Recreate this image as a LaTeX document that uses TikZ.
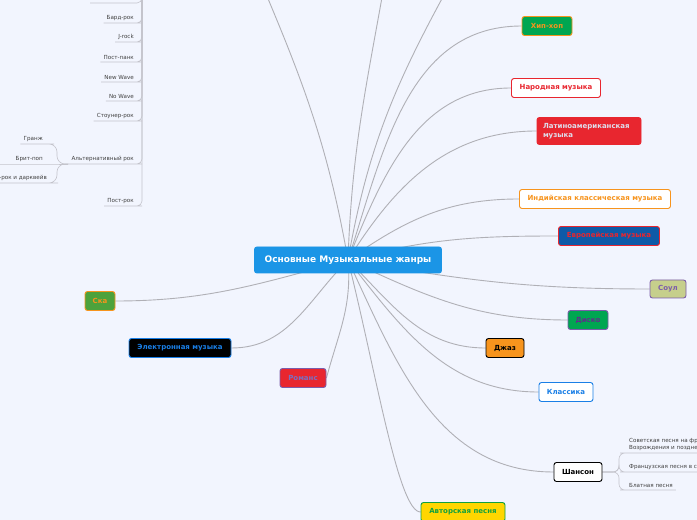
\documentclass[tikz,border=0pt]{standalone}
\usepackage{fontspec}
\setmainfont{DejaVu Sans}

\definecolor{fond}{RGB}{242,245,254}
\definecolor{gristrait}{RGB}{176,176,182}
\definecolor{grisfin}{RGB}{196,196,204}
\definecolor{bleuc}{RGB}{27,149,230}
\definecolor{bleum}{RGB}{26,127,230}
\definecolor{bleuf}{RGB}{14,90,167}
\definecolor{vertx}{RGB}{0,166,81}
\definecolor{vertska}{RGB}{77,162,60}
\definecolor{orangex}{RGB}{247,148,29}
\definecolor{rougex}{RGB}{232,38,47}
\definecolor{violetx}{RGB}{124,92,170}
\definecolor{violetf}{RGB}{96,44,140}
\definecolor{lavande}{RGB}{123,111,192}
\definecolor{olive}{RGB}{198,207,140}
\definecolor{jaunex}{RGB}{255,214,0}
\definecolor{vertb}{RGB}{16,160,64}
\definecolor{clair}{RGB}{222,222,236}

\pgfdeclarelayer{fondlayer}
\pgfdeclarelayer{liens}
\pgfsetlayers{fondlayer,liens,main}

\tikzset{
  genre/.style={draw, rounded corners=2.5pt, line width=0.9pt,
    font=\fontsize{7}{8.5}\selectfont\bfseries, minimum height=19pt, inner xsep=6pt},
  lien/.style={draw=gristrait, line width=0.9pt},
  sousgenre/.style={font=\fontsize{5.6}{7}\selectfont, text=black!75,
    inner xsep=3pt, inner ysep=2.5pt},
  souslien/.style={draw=grisfin, line width=0.6pt, rounded corners=5pt},
}

\begin{document}
\begin{tikzpicture}[x=1pt,y=1pt]
    \useasboundingbox (0,0) rectangle (697,520);
    \begin{pgfonlayer}{fondlayer}
      \fill[fond] (0,0) rectangle (697,520);
    \end{pgfonlayer}

    % Noeud central
    \node[genre, fill=bleuc, draw=bleuc, text=white, minimum height=26pt, minimum width=187pt,
      inner xsep=9pt, font=\fontsize{9}{11}\selectfont\bfseries] (racine) at (348,260) {Основные Музыкальные жанры};

    % Genres a droite
    \node[genre, fill=vertx, draw=orangex, text=orangex, minimum width=50pt] (hiphop) at (547,494) {Хип-хоп};
    \node[genre, fill=white, draw=rougex, text=rougex, minimum width=89pt] (folk) at (556,432) {Народная музыка};
    \node[genre, fill=rougex, draw=rougex, text=clair, align=left, minimum height=27pt,
      text width=92pt] (latino) at (589,389) {Латиноамериканская\\музыка};
    \node[genre, fill=white, draw=orangex, text=orangex, minimum width=151pt] (inde) at (595,321) {Индийская классическая музыка};
    \node[genre, fill=bleuf, draw=rougex, text=rougex, minimum width=101pt] (europe) at (609,284) {Европейская музыка};
    \node[genre, fill=olive, draw=violetx, text=violetx, minimum height=18pt, minimum width=36pt] (soul) at (668,231) {Соул};
    \node[genre, fill=vertx, draw=violetx, text=violetf, minimum width=40pt] (disco) at (588,200) {Диско};
    \node[genre, fill=orangex, draw=black, text=black, minimum width=38pt] (jazz) at (505,172) {Джаз};
    \node[genre, fill=white, draw=bleum, text=bleum, minimum width=54pt] (classique) at (566,128) {Классика};
    \node[genre, fill=white, draw=black, text=black, minimum width=48pt] (chanson) at (578,48) {Шансон};
    \node[genre, fill=jaunex, draw=vertb, text=vertb, minimum width=84pt] (barde) at (463,8) {Авторская песня};

    % Genres a gauche
    \node[genre, fill=rougex, draw=violetx, text=lavande, minimum width=46pt] (romance) at (303,142) {Романс};
    \node[genre, fill=black, draw=bleum, text=bleum, minimum width=102pt] (electro) at (180,172) {Электронная музыка};
    \node[genre, fill=vertska, draw=orangex, text=orangex, minimum width=30pt] (ska) at (100,219) {Ска};

    % Branches hors cadre
    \coordinate (rock) at (258,545);
    \coordinate (hautA) at (386,545);
    \coordinate (hautB) at (455,545);
    \coordinate (rockaxe) at (142,545);

    % Sous-genres du rock
    \coordinate (cache) at (100,517);
    \node[sousgenre, anchor=south east] (bardrock) at (137,497) {Бард-рок};
    \node[sousgenre, anchor=south east] (jrock) at (137,478) {J-rock};
    \node[sousgenre, anchor=south east] (postpunk) at (137,458) {Пост-панк};
    \node[sousgenre, anchor=south east] (newwave) at (137,438) {New Wave};
    \node[sousgenre, anchor=south east] (nowave) at (137,419) {No Wave};
    \node[sousgenre, anchor=south east] (stoner) at (137,399) {Стоунер-рок};
    \node[sousgenre, anchor=south east] (altrock) at (137,356) {Альтернативный рок};
    \node[sousgenre, anchor=south east] (postrock) at (137,314) {Пост-рок};

    % Sous-genres du rock alternatif
    \node[sousgenre, anchor=south east] (grunge) at (46,376) {Гранж};
    \node[sousgenre, anchor=south east] (britpop) at (46,356) {Брит-поп};
    \node[sousgenre, anchor=south east] (gothic) at (50,337) {Готик-рок и дарквейв};
    \coordinate (britsuite) at (-10,356);

    % Sous-genres du chanson
    \node[sousgenre, anchor=south west, align=left] (sovet) at (626,67) {Советская песня на французском языке\\Возрождения и позднего Средневековья};
    \node[sousgenre, anchor=south west] (francais) at (626,48) {Французская песня в стиле шансон};
    \node[sousgenre, anchor=south west] (blatnaya) at (626,30) {Блатная песня};

    \begin{pgfonlayer}{liens}
      % Liens du centre
      \draw[lien] (racine.center) to[out=100,in=-67] (rock);
      \draw[lien] (racine.center) to[out=88,in=-100] (hautA);
      \draw[lien] (racine.center) to[out=80,in=-119] (hautB);
      \draw[lien] (racine.center) to[out=72,in=180] (hiphop.west);
      \draw[lien] (racine.center) to[out=68,in=180] (folk.west);
      \draw[lien] (racine.center) to[out=58,in=180] (latino.west);
      \draw[lien] (racine.center) to[out=35,in=180] (inde.west);
      \draw[lien] (racine.center) to[out=15,in=180] (europe.west);
      \draw[lien] (racine.center) to[out=-10,in=180] (soul.west);
      \draw[lien] (racine.center) to[out=-25,in=180] (disco.west);
      \draw[lien] (racine.center) to[out=-45,in=180] (jazz.west);
      \draw[lien] (racine.center) to[out=-52,in=180] (classique.west);
      \draw[lien] (racine.center) to[out=-65,in=180] (chanson.west);
      \draw[lien] (racine.center) .. controls +(-76:120) and +(-22,0) .. (barde.west);
      \draw[lien] (racine.center) to[out=-85,in=75] (romance.east);
      \draw[lien] (racine.center) to[out=-135,in=0] (electro.east);
      \draw[lien] (racine.center) to[out=195,in=0] (ska.east);

      % Rock
      \draw[souslien] (rockaxe) |- (cache) -- ++(-10,0);
      \foreach \sg in {bardrock,jrock,postpunk,newwave,nowave,stoner,altrock,postrock}
        \draw[souslien] (rockaxe) |- (\sg.south east) -- (\sg.south west);

      % Rock alternatif
      \draw[souslien, rounded corners=8pt] (altrock.south west) -- (57,356) |- (grunge.south east) -- (grunge.south west);
      \draw[souslien] (altrock.south west) -- (britpop.south east) -- (britpop.south west) -- (britsuite);
      \draw[souslien, rounded corners=8pt] (altrock.south west) -- (57,356) |- (gothic.south east) -- (gothic.south west);

      % Chanson
      \foreach \sg in {sovet,francais,blatnaya}
        \draw[souslien, rounded corners=6pt] (chanson.east) -- (619,48) |- (\sg.south west) -- (\sg.south east);
    \end{pgfonlayer}
\end{tikzpicture}
\end{document}
